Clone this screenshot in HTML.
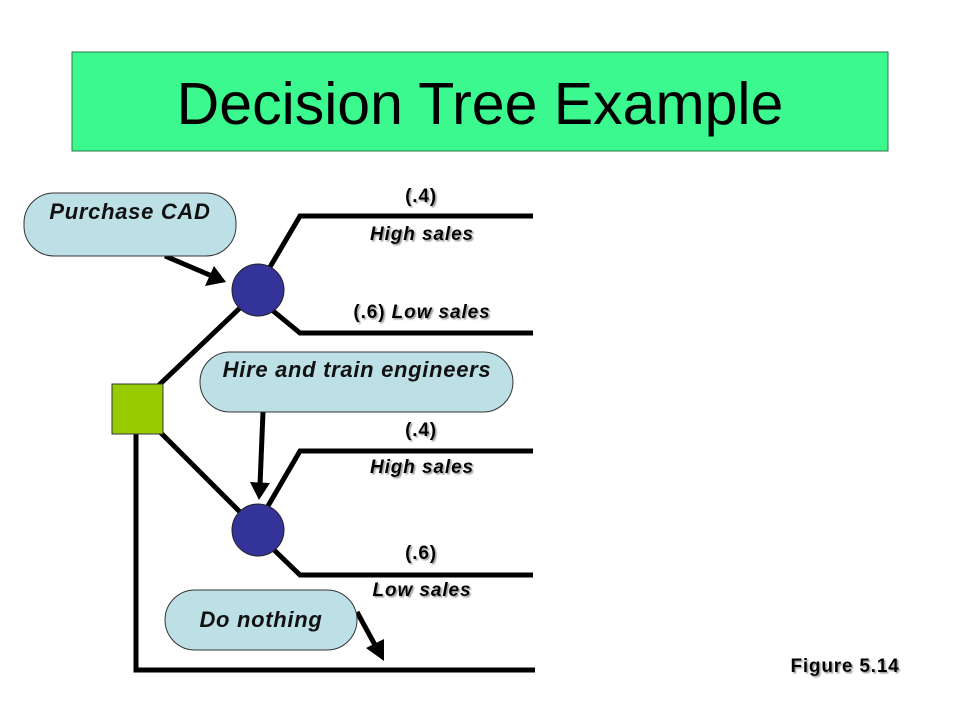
<!DOCTYPE html>
<html><head><style>
html,body{margin:0;padding:0;background:#fff;}
svg{display:block;}
text{font-family:"Liberation Sans",Arial,sans-serif;}
.l{font-size:19px;font-weight:bold;font-style:italic;text-anchor:middle;fill:#000;letter-spacing:0.9px;}
.p{font-size:19px;font-weight:bold;text-anchor:middle;fill:#000;letter-spacing:0.8px;}
.b{font-size:22px;font-weight:bold;font-style:italic;text-anchor:middle;fill:#111;letter-spacing:0.7px;}
</style></head><body>
<svg width="960" height="720" viewBox="0 0 960 720">
<defs>
<filter id="sh" x="-10%" y="-10%" width="130%" height="150%"><feDropShadow dx="1.5" dy="1.5" stdDeviation="0.8" flood-color="#999"/></filter>
</defs>
<rect x="72" y="52" width="816" height="99" fill="#3cf98f" stroke="#2a7a4a" stroke-width="1"/>
<text x="480" y="124" font-size="59" text-anchor="middle" fill="#000">Decision Tree Example</text>

<g stroke="#000" stroke-width="5" fill="none" stroke-linejoin="miter">
<line x1="158" y1="386" x2="242" y2="306"/>
<polyline points="270,267 300,216 533,216"/>
<polyline points="272,310 300,333 533,333"/>
<line x1="158" y1="430" x2="243" y2="515"/>
<polyline points="268,506 300,451 533,451"/>
<polyline points="272,548 300,575 533,575"/>
<polyline points="136,432 136,670 535,670"/>
<line x1="165" y1="256" x2="212" y2="276"/>
<line x1="263" y1="412" x2="260" y2="485"/>
<line x1="357" y1="612" x2="375" y2="645"/>
</g>
<polygon points="226,282 205,286 214,266" fill="#000"/>
<polygon points="259,500 250,482 270,483" fill="#000"/>
<polygon points="384,661 366,648 384,639" fill="#000"/>

<rect x="24" y="193" width="212" height="63" rx="30" fill="#bde0e6" stroke="#333" stroke-width="1"/>
<rect x="200" y="352" width="313" height="60" rx="30" fill="#bde0e6" stroke="#333" stroke-width="1"/>
<rect x="165" y="590" width="192" height="60" rx="30" fill="#bde0e6" stroke="#333" stroke-width="1"/>

<circle cx="258" cy="290" r="26" fill="#333399" stroke="#222" stroke-width="1"/>
<circle cx="258" cy="530" r="26" fill="#333399" stroke="#222" stroke-width="1"/>
<rect x="112" y="384" width="51" height="50" fill="#99cc00" stroke="#333" stroke-width="1"/>

<text class="b" x="130" y="219">Purchase CAD</text>
<text class="b" x="357" y="377">Hire and train engineers</text>
<text class="b" x="261" y="627">Do nothing</text>

<g filter="url(#sh)">
<text class="p" x="421" y="202">(.4)</text>
<text class="l" x="422" y="240">High sales</text>
<text class="l" x="422" y="318"><tspan font-style="normal">(.6)</tspan> Low sales</text>
<text class="p" x="421" y="436">(.4)</text>
<text class="l" x="422" y="473">High sales</text>
<text class="p" x="421" y="559">(.6)</text>
<text class="l" x="422" y="596">Low sales</text>
<text class="p" x="845" y="672">Figure 5.14</text>
</g>
</svg>
</body></html>
